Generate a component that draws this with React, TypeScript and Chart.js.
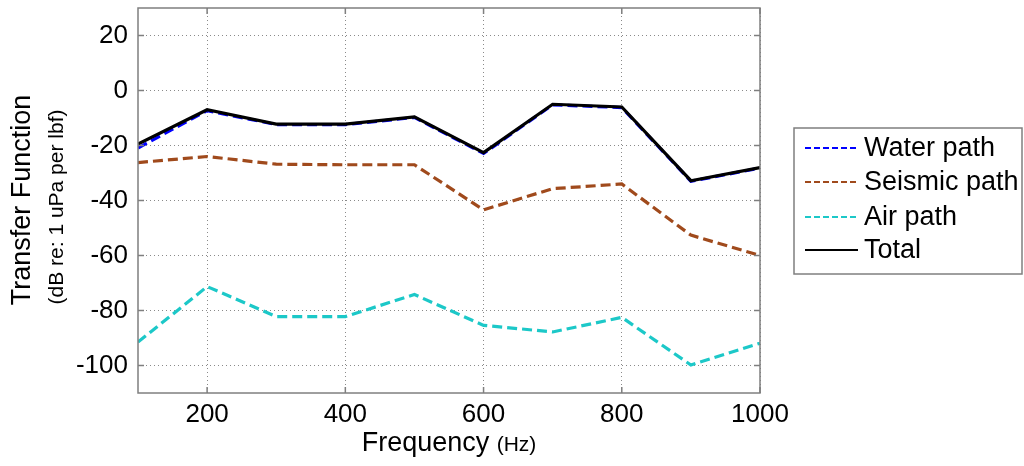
import React, { useEffect, useRef } from "react";
import { Chart, registerables } from "chart.js";

Chart.register(...registerables);

const frequencies = [100, 200, 300, 400, 500, 600, 700, 800, 900, 1000];
const waterPath = [-20.9, -7.3, -12.4, -12.4, -9.8, -22.9, -5.2, -6.2, -33, -28.2];
const seismicPath = [-26.2, -24, -26.8, -27, -27, -43.4, -35.7, -34, -52.6, -60];
const airPath = [-91.5, -71.3, -82.2, -82.2, -74.2, -85.4, -87.8, -82.5, -99.8, -91.9];
const totalPath = [-19.5, -7, -12.2, -12.2, -9.6, -22.6, -5, -6, -32.8, -28];

const xTicks = [200, 400, 600, 800, 1000];
const yTicks = [-100, -80, -60, -40, -20, 0, 20];

const seriesNames = ["Water path", "Seismic path", "Air path", "Total"];
const seriesColors = ["#0000ff", "#a04a1c", "#1cc8c8", "#000000"];
const seriesDashed = [true, true, true, false];

const FONT = "'Liberation Sans', Arial, Helvetica, sans-serif";

const framePlugin = {
  id: "frame",
  afterDraw(chart: any) {
    const { ctx, chartArea } = chart;
    const { left, right, top, bottom } = chartArea;
    const xs = chart.scales.x;
    const ys = chart.scales.y;
    ctx.save();
    ctx.strokeStyle = "#7f7f7f";
    ctx.lineWidth = 1.5;
    ctx.setLineDash([]);
    ctx.strokeRect(left, top, right - left, bottom - top);
    const tl = 6;
    ctx.beginPath();
    xTicks.forEach((v) => {
      const px = xs.getPixelForValue(v);
      ctx.moveTo(px, bottom);
      ctx.lineTo(px, bottom - tl);
      ctx.moveTo(px, top);
      ctx.lineTo(px, top + tl);
    });
    yTicks.forEach((v) => {
      const py = ys.getPixelForValue(v);
      ctx.moveTo(left, py);
      ctx.lineTo(left + tl, py);
      ctx.moveTo(right, py);
      ctx.lineTo(right - tl, py);
    });
    ctx.stroke();

    ctx.fillStyle = "#000";
    ctx.textAlign = "center";
    ctx.textBaseline = "middle";
    ctx.save();
    ctx.translate(23, 200);
    ctx.rotate(-Math.PI / 2);
    ctx.font = `27px ${FONT}`;
    ctx.fillText("Transfer Function", 0, 0);
    ctx.restore();
    ctx.save();
    ctx.translate(57, 207);
    ctx.rotate(-Math.PI / 2);
    ctx.font = `21px ${FONT}`;
    ctx.fillText("(dB re: 1 uPa per lbf)", 0, 0);
    ctx.restore();

    ctx.textBaseline = "alphabetic";
    ctx.textAlign = "left";
    ctx.font = `27px ${FONT}`;
    const t1 = "Frequency ";
    const w1 = ctx.measureText(t1).width;
    ctx.font = `21px ${FONT}`;
    const t2 = "(Hz)";
    const w2 = ctx.measureText(t2).width;
    const cx = (left + right) / 2;
    const startX = cx - (w1 + w2) / 2;
    const baseY = 451;
    ctx.font = `27px ${FONT}`;
    ctx.fillText(t1, startX, baseY);
    ctx.font = `21px ${FONT}`;
    ctx.fillText(t2, startX + w1, baseY);

    const lx = 794, ly = 128, lw = 228, lh = 146;
    ctx.fillStyle = "#fff";
    ctx.fillRect(lx, ly, lw, lh);
    ctx.strokeStyle = "#7f7f7f";
    ctx.lineWidth = 1.5;
    ctx.strokeRect(lx, ly, lw, lh);
    const rows = [148, 182, 217, 250];
    seriesNames.forEach((name, i) => {
      const y = rows[i];
      ctx.strokeStyle = seriesColors[i];
      ctx.lineWidth = 2;
      ctx.setLineDash(seriesDashed[i] ? [6, 3] : []);
      ctx.beginPath();
      ctx.moveTo(805, y);
      ctx.lineTo(858, y);
      ctx.stroke();
      ctx.setLineDash([]);
      ctx.fillStyle = "#000";
      ctx.font = `27px ${FONT}`;
      ctx.textBaseline = "middle";
      ctx.textAlign = "left";
      ctx.fillText(name, 864, y + 1);
    });
    ctx.restore();
  },
};

export default function App() {
  const ref = useRef<HTMLCanvasElement | null>(null);
  useEffect(() => {
    if (!ref.current) return;
    const seriesData = [waterPath, seismicPath, airPath, totalPath];
    const orders = [4, 3, 2, 1];
    const chart = new Chart(ref.current, {
      type: "line",
      data: {
        datasets: seriesNames.map((name, i) => ({
          label: name,
          data: frequencies.map((f, j) => ({ x: f, y: seriesData[i][j] })),
          borderColor: seriesColors[i],
          backgroundColor: seriesColors[i],
          borderWidth: 3.2,
          borderDash: seriesDashed[i] ? [10, 5] : [],
          pointRadius: 0,
          tension: 0,
          fill: false,
          order: orders[i],
        })),
      },
      options: {
        animation: false,
        responsive: false,
        events: [],
        layout: { padding: { left: 0, right: 264, top: 8, bottom: 0 } },
        plugins: {
          legend: { display: false },
          tooltip: { enabled: false },
          title: { display: false },
        },
        scales: {
          x: {
            type: "linear",
            min: 100,
            max: 1000,
            afterBuildTicks: (scale: any) => {
              scale.ticks = xTicks.map((v) => ({ value: v }));
            },
            afterFit: (scale: any) => {
              scale.height = 73;
              scale.paddingLeft = 0;
              scale.paddingRight = 0;
            },
            ticks: {
              color: "#000",
              font: { family: FONT, size: 26 },
              padding: 6,
              maxRotation: 0,
              autoSkip: false,
              callback: (v: any) => String(v),
            },
            grid: { color: "#8a8a8a", lineWidth: 1, drawTicks: false },
            border: { display: false, dash: [1, 3] },
          },
          y: {
            type: "linear",
            min: -110,
            max: 30,
            afterBuildTicks: (scale: any) => {
              scale.ticks = yTicks.map((v) => ({ value: v }));
            },
            afterFit: (scale: any) => {
              scale.width = 138;
              scale.paddingTop = 0;
              scale.paddingBottom = 0;
            },
            ticks: {
              color: "#000",
              font: { family: FONT, size: 26 },
              padding: 10,
              autoSkip: false,
              callback: (v: any) => String(v),
            },
            grid: { color: "#8a8a8a", lineWidth: 1, drawTicks: false },
            border: { display: false, dash: [1, 3] },
          },
        },
      },
      plugins: [framePlugin],
    });
    return () => chart.destroy();
  }, []);
  return (
    <div style={{ position: "fixed", left: 0, top: 0, width: 1024, height: 466, background: "#fff" }}>
      <canvas ref={ref} width={1024} height={466} style={{ display: "block" }} />
    </div>
  );
}
